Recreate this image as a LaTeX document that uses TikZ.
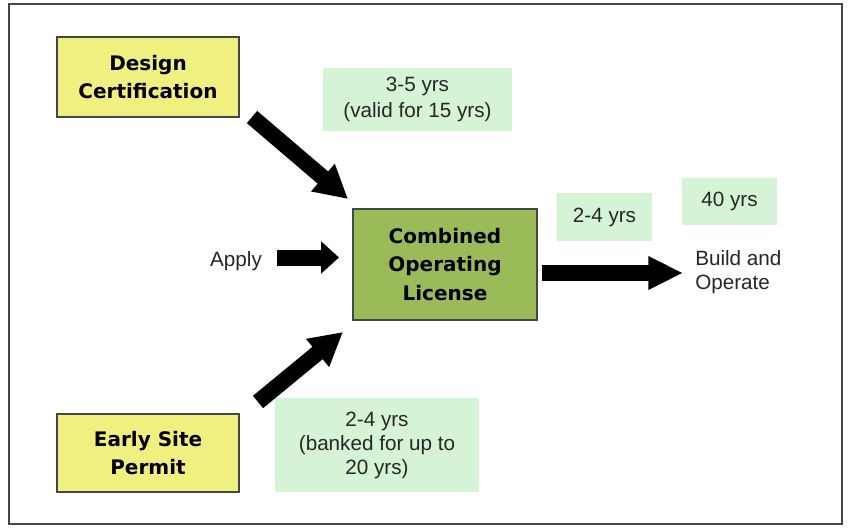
\documentclass[tikz,border=0pt]{standalone}
\usepackage{fontspec}
\setmainfont{Liberation Sans}
\newfontfamily\heavyfont{DejaVu Sans}
\usetikzlibrary{arrows.meta}
\definecolor{boxyellow}{RGB}{240,240,128}
\definecolor{boxgreen}{RGB}{155,187,89}
\definecolor{palegreen}{RGB}{213,243,213}
\definecolor{edgegray}{RGB}{70,70,70}
\tikzset{
  yellowbox/.style={draw=edgegray, line width=1.2pt, fill=boxyellow, align=center,
    font=\heavyfont\bfseries\fontsize{15}{21}\selectfont, inner sep=0pt},
  greenbox/.style={draw=edgegray, line width=1.2pt, fill=boxgreen, align=center,
    font=\heavyfont\bfseries\fontsize{15}{21.5}\selectfont, inner sep=0pt},
  notebox/.style={fill=palegreen, align=center, inner sep=0pt,
    font=\fontsize{15.5}{18}\selectfont, text=black!85},
  plain/.style={align=left, inner sep=0pt, font=\fontsize{15.5}{17.5}\selectfont, text=black!85},
  bigarrow/.style={line width=12pt, -{Triangle[length=24.75pt, width=25.5pt]}},
  shortarrow/.style={line width=12pt, -{Triangle[length=13.5pt, width=23.5pt]}},
}
\begin{document}
\begin{tikzpicture}[x=0.75pt, y=-0.75pt]
\useasboundingbox (0,0) rectangle (849,529);
\node[draw=edgegray, line width=1.6pt, minimum width=624.75pt, minimum height=390pt, inner sep=0pt] (frame) at (425.5,264) {};

\node[yellowbox, minimum width=136.5pt, minimum height=60pt] (dc) at (148,77) {Design\\Certification};
\node[yellowbox, minimum width=136.5pt, minimum height=58.5pt] (esp) at (148,453) {Early Site\\Permit};
\node[greenbox, minimum width=138pt, minimum height=83.25pt] (col) at (445,264.5) {Combined\\Operating\\License};

\node[notebox, minimum width=141.75pt, minimum height=47.25pt, font=\fontsize{15.5}{20}\selectfont] (n35) at (417.5,99.5) {3-5 yrs\\(valid for 15 yrs)};
\node[notebox, minimum width=71.25pt, minimum height=36pt] (n24) at (604.5,217) {2-4 yrs};
\node[notebox, minimum width=71.25pt, minimum height=35.25pt] (n40) at (729.5,201.5) {40 yrs};
\node[notebox, minimum width=153pt, minimum height=70.5pt] (nbank) at (377,445) {2-4 yrs\\(banked for up to\\20 yrs)};

\node[plain] (apply) at (236,261) {Apply};
\node[plain, anchor=west] (build) at (695,272) {Build and\\Operate};

\coordinate (dctail) at (252,117);
\coordinate (dctip) at (348,199);
\coordinate (esptail) at (258,402);
\coordinate (esptip) at (343,332);
\coordinate (aptail) at (277,257.5);
\coordinate (aptip) at (339,257.5);
\coordinate (bdtail) at (542,273);
\coordinate (bdtip) at (683,273);

\draw[bigarrow] (dctail) -- (dctip);
\draw[bigarrow] (esptail) -- (esptip);
\draw[shortarrow] (aptail) -- (aptip);
\draw[bigarrow, -{Triangle[length=26pt, width=23.5pt]}] (bdtail) -- (bdtip);
\end{tikzpicture}
\end{document}
